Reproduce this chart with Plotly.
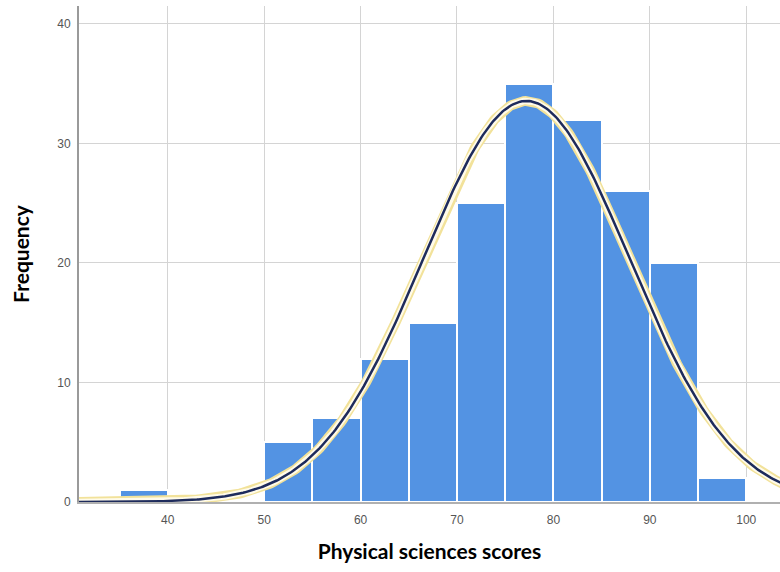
import numpy as np
import plotly.graph_objects as go

bin_starts = [35, 40, 45, 50, 55, 60, 65, 70, 75, 80, 85, 90, 95]
counts = [1, 0, 0, 5, 7, 12, 15, 25, 35, 32, 26, 20, 2]
bin_width = 5
x_ticks = [40, 50, 60, 70, 80, 90, 100]
y_ticks = [0, 10, 20, 30, 40]
fit_mean = 77.2
fit_sd = 10.7

n_total = sum(counts)
centers = [s + bin_width / 2 for s in bin_starts]

xs = np.linspace(30.5, 104, 400)
ys = n_total * bin_width / (fit_sd * np.sqrt(2 * np.pi)) * np.exp(-0.5 * ((xs - fit_mean) / fit_sd) ** 2)

fig = go.Figure()
fig.add_trace(go.Bar(
    x=centers, y=counts, width=bin_width,
    marker=dict(color="#5393e3", line=dict(color="white", width=2)),
    hoverinfo="skip",
))
fig.add_trace(go.Scatter(x=xs, y=ys, mode="lines",
                         line=dict(color="#f2e29a", width=10), hoverinfo="skip"))
fig.add_trace(go.Scatter(x=xs, y=ys, mode="lines",
                         line=dict(color="#fffbea", width=6.5), hoverinfo="skip"))
fig.add_trace(go.Scatter(x=xs, y=ys, mode="lines",
                         line=dict(color="#1e2b5c", width=2.5), hoverinfo="skip"))

fig.update_layout(
    width=780, height=572,
    margin=dict(l=79, r=0, t=6, b=70, autoexpand=False),
    paper_bgcolor="white", plot_bgcolor="white",
    showlegend=False, bargap=0,
    xaxis=dict(
        range=[30.8, 103.5], tickvals=x_ticks, ticktext=[str(v) for v in x_ticks],
        showgrid=True, gridcolor="#d4d4d4", gridwidth=1,
        zeroline=False, showline=True, linecolor="#b0b0b0", linewidth=1.5,
        tickfont=dict(family="Liberation Sans, Arial", size=12, color="#555555"),
        ticks="", ticklabelstandoff=6, automargin=False,
        title=dict(text="<b>Physical sciences scores</b>",
                   font=dict(family="Lato, Open Sans", size=21, color="black"),
                   standoff=18),
    ),
    yaxis=dict(
        range=[0, 41.5], tickvals=y_ticks, ticktext=[str(v) for v in y_ticks],
        showgrid=True, gridcolor="#d4d4d4", gridwidth=1,
        zeroline=False, showline=True, linecolor="#9a9a9a", linewidth=2,
        tickfont=dict(family="Liberation Sans, Arial", size=12, color="#555555"),
        ticks="", ticklabelstandoff=4, automargin=False,
        title=dict(text="<b>Frequency</b>",
                   font=dict(family="Lato, Open Sans", size=21, color="black"),
                   standoff=22),
    ),
)

fig.write_html("out.html", config={"displayModeBar": False},
               post_script="document.body.style.margin='0';")
